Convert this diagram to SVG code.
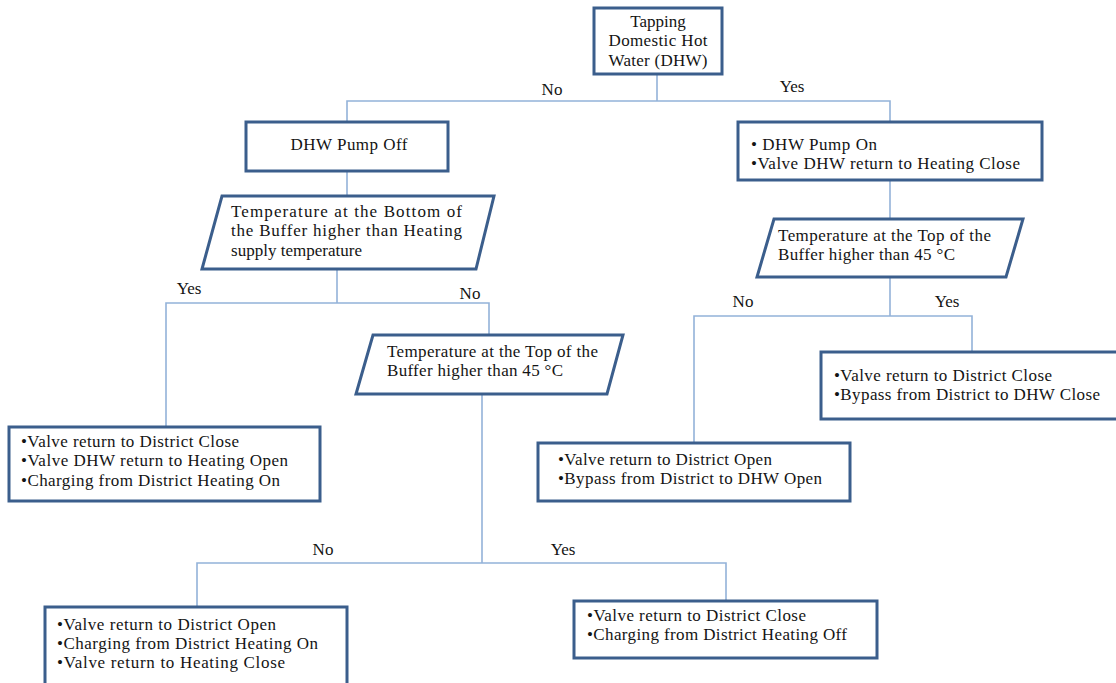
<svg xmlns="http://www.w3.org/2000/svg" width="1116" height="683" viewBox="0 0 1116 683">
<style>
.box{fill:#fff;stroke:#3b5e8c;stroke-width:3}
.ln{fill:none;stroke:#93b2d9;stroke-width:1.6}
text{font-family:"Liberation Serif","Times New Roman",serif;font-size:17px;fill:#141414}
.c{text-anchor:middle}
</style>
<rect width="1116" height="683" fill="#fff"/>
<g id="connectors">
<polyline class="ln" points="657,74 657,101"/>
<polyline class="ln" points="347,121 347,101 890,101 890,121"/>
<polyline class="ln" points="347,171 347,196"/>
<polyline class="ln" points="890,180 890,219"/>
<polyline class="ln" points="337,269 337,303"/>
<polyline class="ln" points="166,427 166,303 489,303 489,335"/>
<polyline class="ln" points="890,277 890,316"/>
<polyline class="ln" points="694,443 694,316 972,316 972,352"/>
<polyline class="ln" points="482,394 482,563"/>
<polyline class="ln" points="197,607 197,563 726,563 726,601"/>
<text x="552" y="95" class="c">No</text>
<text x="792" y="92" class="c">Yes</text>
<text x="189" y="294" class="c">Yes</text>
<text x="470" y="299" class="c">No</text>
<text x="743" y="307" class="c">No</text>
<text x="947" y="307" class="c">Yes</text>
<text x="323" y="555" class="c">No</text>
<text x="563" y="555" class="c">Yes</text>
</g>
<g id="n-tap">
<rect class="box" x="594" y="8" width="128" height="66"/>
<text x="658" y="27" class="c">Tapping</text>
<text x="658" y="46" class="c" textLength="99" lengthAdjust="spacing">Domestic  Hot</text>
<text x="658" y="66" class="c" textLength="99" lengthAdjust="spacing">Water (DHW)</text>
</g>
<g id="n-pumpoff">
<rect class="box" x="246" y="122" width="202" height="49"/>
<text x="349" y="150" class="c" textLength="117" lengthAdjust="spacing">DHW Pump  Off</text>
</g>
<g id="n-bottom">
<polygon class="box" points="222,196 494,196 476,269 202,269"/>
<text x="231" y="217" textLength="231" lengthAdjust="spacing">Temperature at the Bottom of</text>
<text x="231" y="236" textLength="231" lengthAdjust="spacing">the Buffer higher than Heating</text>
<text x="231" y="256" textLength="131" lengthAdjust="spacing">supply temperature</text>
</g>
<g id="n-pumpon">
<rect class="box" x="738" y="122" width="304" height="58"/>
<text x="751" y="150" textLength="126" lengthAdjust="spacing">• DHW Pump  On</text>
<text x="751" y="169" textLength="269" lengthAdjust="spacing">•Valve  DHW return to Heating   Close</text>
</g>
<g id="n-top-right">
<polygon class="box" points="774,219 1023,219 1006,277 757,277"/>
<text x="778" y="241" textLength="213" lengthAdjust="spacing">Temperature at the Top of the</text>
<text x="778" y="260" textLength="177" lengthAdjust="spacing">Buffer  higher  than  45 °C</text>
</g>
<g id="n-top-mid">
<polygon class="box" points="373,335 623,335 607,394 356,394"/>
<text x="387" y="357" textLength="211" lengthAdjust="spacing">Temperature at the Top of the</text>
<text x="387" y="376" textLength="176" lengthAdjust="spacing">Buffer  higher  than  45 °C</text>
</g>
<g id="n-left-yes">
<rect class="box" x="9" y="427" width="311" height="74"/>
<text x="21" y="447" textLength="218" lengthAdjust="spacing">•Valve  return  to District   Close</text>
<text x="21" y="466" textLength="267" lengthAdjust="spacing">•Valve  DHW  return  to Heating   Open</text>
<text x="21" y="486" textLength="259" lengthAdjust="spacing">•Charging  from  District  Heating   On</text>
</g>
<g id="n-right-yes">
<rect class="box" x="821" y="352" width="300" height="67"/>
<text x="834" y="381" textLength="218" lengthAdjust="spacing">•Valve  return  to District   Close</text>
<text x="834" y="400" textLength="266" lengthAdjust="spacing">•Bypass  from  District  to DHW  Close</text>
</g>
<g id="n-right-no">
<rect class="box" x="538" y="443" width="312" height="58"/>
<text x="558" y="465" textLength="214" lengthAdjust="spacing">•Valve  return  to District  Open</text>
<text x="558" y="484" textLength="264" lengthAdjust="spacing">•Bypass  from  District  to DHW  Open</text>
</g>
<g id="n-mid-no">
<rect class="box" x="45" y="607" width="302" height="80"/>
<text x="57" y="630" textLength="219" lengthAdjust="spacing">•Valve   return  to District  Open</text>
<text x="57" y="649" textLength="261" lengthAdjust="spacing">•Charging  from  District  Heating   On</text>
<text x="57" y="668" textLength="228" lengthAdjust="spacing">•Valve   return  to Heating   Close</text>
</g>
<g id="n-mid-yes">
<rect class="box" x="574" y="601" width="303" height="57"/>
<text x="587" y="621" textLength="219" lengthAdjust="spacing">•Valve  return  to District   Close</text>
<text x="587" y="640" textLength="260" lengthAdjust="spacing">•Charging  from  District  Heating   Off</text>
</g>
</svg>
